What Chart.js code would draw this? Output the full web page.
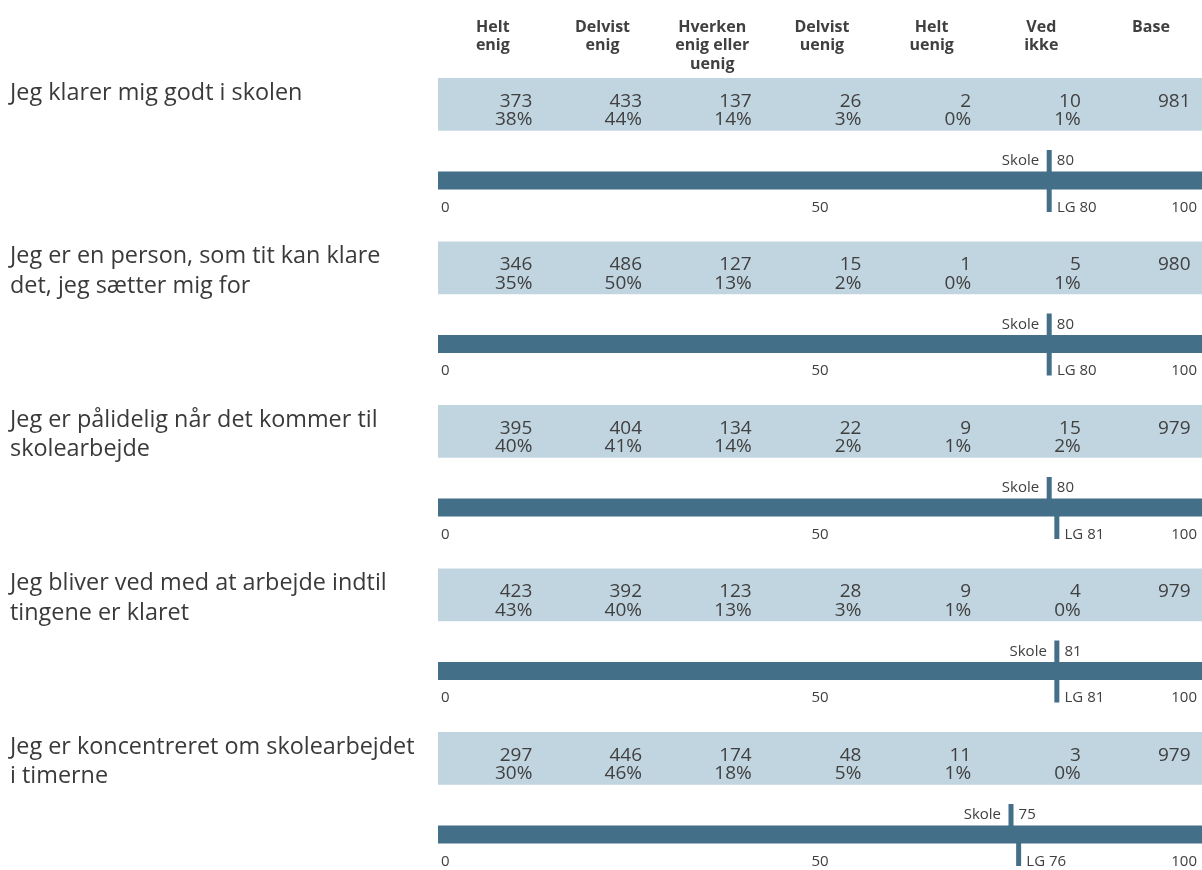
<!DOCTYPE html>
<html>
<head>
<meta charset="utf-8">
<script src="https://cdn.jsdelivr.net/npm/chart.js@4.4.1/dist/chart.umd.min.js"></script>
<style>
html,body{margin:0;padding:0;background:#ffffff;}
#wrap{width:1202px;height:870px;position:relative;}
</style>
</head>
<body>
<div id="wrap"><canvas id="c" width="1202" height="870"></canvas></div>
<script>
// ---------- data ----------
const questions = [
  ["Jeg klarer mig godt i skolen"],
  ["Jeg er en person, som tit kan klare", "det, jeg sætter mig for"],
  ["Jeg er pålidelig når det kommer til", "skolearbejde"],
  ["Jeg bliver ved med at arbejde indtil", "tingene er klaret"],
  ["Jeg er koncentreret om skolearbejdet", "i timerne"]
];
const columnHeaders = [
  ["Helt", "enig"],
  ["Delvist", "enig"],
  ["Hverken", "enig eller", "uenig"],
  ["Delvist", "uenig"],
  ["Helt", "uenig"],
  ["Ved", "ikke"],
  ["Base"]
];
const heltEnig      = [373, 346, 395, 423, 297];
const delvistEnig   = [433, 486, 404, 392, 446];
const hverken       = [137, 127, 134, 123, 174];
const delvistUenig  = [26, 15, 22, 28, 48];
const heltUenig     = [2, 1, 9, 9, 11];
const vedIkke       = [10, 5, 15, 4, 3];
const base          = [981, 980, 979, 979, 979];

const pctHeltEnig     = [38, 35, 40, 43, 30];
const pctDelvistEnig  = [44, 50, 41, 40, 46];
const pctHverken      = [14, 13, 14, 13, 18];
const pctDelvistUenig = [3, 2, 2, 3, 5];
const pctHeltUenig    = [0, 0, 1, 1, 1];
const pctVedIkke      = [1, 1, 2, 0, 0];

const skole = [80, 80, 80, 81, 75];
const lg    = [80, 80, 81, 81, 76];

const scaleMin = 0, scaleMax = 100;
const scaleTicks = [0, 50, 100];

const countSeries = [heltEnig, delvistEnig, hverken, delvistUenig, heltUenig, vedIkke, base];
const pctSeries = [pctHeltEnig, pctDelvistEnig, pctHverken, pctDelvistUenig, pctHeltUenig, pctVedIkke];

// ---------- layout (pixels / units) ----------
const UNIT = 163.5;                 // pixels per question block
const Y_MIN = -104.3 / UNIT;
const Y_MAX = Y_MIN + 870 / UNIT;
const TRACK_OFF = 76.1 / UNIT;
const SKOLE_OFF = 60.2 / UNIT;
const LG_OFF = 91.7 / UNIT;

const BAND = '#c1d5e0';
const DARK = '#446f88';
const TXT = '#404040';
const FONT = '"Open Sans", "DejaVu Sans", sans-serif';

const textPlugin = {
  id: 'tableText',
  afterDraw(chart) {
    const ctx = chart.ctx;
    const x = chart.scales.x, y = chart.scales.y, xc = chart.scales.xc;
    ctx.save();
    ctx.fillStyle = TXT;
    ctx.textBaseline = 'alphabetic';

    // column headers
    const y0 = y.getPixelForValue(0);
    ctx.font = 'bold 16px ' + FONT;
    ctx.textAlign = 'center';
    columnHeaders.forEach((lines, c) => {
      lines.forEach((ln, k) => {
        ctx.fillText(ln, xc.getPixelForValue(c), y0 - 72.8 + k * 18.8);
      });
    });

    questions.forEach((lines, i) => {
      const yc = y.getPixelForValue(i);
      // left question label
      ctx.fillStyle = '#3a3a3a';
      ctx.font = '23.4px ' + FONT;
      ctx.textAlign = 'left';
      lines.forEach((ln, k) => ctx.fillText(ln, 10, yc - 4.5 + k * 29.3));

      // table numbers
      ctx.fillStyle = TXT;
      ctx.font = '19px ' + FONT;
      ctx.textAlign = 'right';
      countSeries.forEach((arr, c) => {
        ctx.fillText(String(arr[i]), xc.getPixelForValue(c) + 39.5, yc + 2.2);
      });
      pctSeries.forEach((arr, c) => {
        ctx.fillText(arr[i] + '%', xc.getPixelForValue(c) + 39.5, yc + 20.7);
      });

      // track labels
      ctx.font = '15px ' + FONT;
      const sx = x.getPixelForValue(skole[i]);
      const lx = x.getPixelForValue(lg[i]);
      ctx.textAlign = 'right';
      ctx.fillText('Skole', sx - 10, yc + 60.7);
      ctx.textAlign = 'left';
      ctx.fillText(String(skole[i]), sx + 7.6, yc + 60.7);
      ctx.fillText('LG ' + lg[i], lx + 7.7, yc + 107.5);

      // scale ticks
      scaleTicks.forEach((t, k) => {
        const px = x.getPixelForValue(t);
        if (k === 0) { ctx.textAlign = 'left'; ctx.fillText(String(t), px + 3, yc + 107.5); }
        else if (k === scaleTicks.length - 1) { ctx.textAlign = 'right'; ctx.fillText(String(t), px - 5, yc + 107.5); }
        else { ctx.textAlign = 'center'; ctx.fillText(String(t), px, yc + 107.5); }
      });
    });
    ctx.restore();
  }
};

function build() {
  new Chart(document.getElementById('c'), {
    type: 'bar',
    data: {
      datasets: [
        {
          type: 'bar', indexAxis: 'y', label: 'band',
          data: questions.map((q, i) => ({ x: [scaleMin, scaleMax], y: i })),
          backgroundColor: BAND, barThickness: 52, grouped: false, order: 3,
          xAxisID: 'x', yAxisID: 'y'
        },
        {
          type: 'bar', indexAxis: 'y', label: 'track',
          data: questions.map((q, i) => ({ x: [scaleMin, scaleMax], y: i + TRACK_OFF })),
          backgroundColor: DARK, barThickness: 17.3, grouped: false, order: 2,
          xAxisID: 'x', yAxisID: 'y'
        },
        {
          type: 'scatter', indexAxis: 'x', label: 'Skole',
          data: skole.map((v, i) => ({ x: v, y: i + SKOLE_OFF })),
          pointStyle: 'line', pointRotation: 90, pointRadius: 14.5, pointHoverRadius: 14.5,
          pointBorderWidth: 5, pointBorderColor: DARK, borderColor: DARK, backgroundColor: DARK,
          showLine: false, clip: false, order: 1, xAxisID: 'x', yAxisID: 'y'
        },
        {
          type: 'scatter', indexAxis: 'x', label: 'LG',
          data: lg.map((v, i) => ({ x: v, y: i + LG_OFF })),
          pointStyle: 'line', pointRotation: 90, pointRadius: 16, pointHoverRadius: 16,
          pointBorderWidth: 5, pointBorderColor: DARK, borderColor: DARK, backgroundColor: DARK,
          showLine: false, clip: false, order: 1, xAxisID: 'x', yAxisID: 'y'
        }
      ]
    },
    options: {
      responsive: false,
      animation: false,
      devicePixelRatio: 1,
      indexAxis: 'y',
      layout: { autoPadding: false, padding: { left: 438, right: 0, top: 0, bottom: 0 } },
      plugins: { legend: { display: false }, tooltip: { enabled: false } },
      events: [],
      scales: {
        x: { type: 'linear', min: scaleMin, max: scaleMax, offset: false, display: false },
        xc: { type: 'linear', axis: 'x', min: -0.5, max: 6.465, offset: false, display: false },
        y: { type: 'linear', min: Y_MIN, max: Y_MAX, reverse: true, offset: false, display: false }
      }
    },
    plugins: [textPlugin]
  });
}
if (document.fonts && document.fonts.load) {
  Promise.all([
    document.fonts.load('23px "Open Sans"'),
    document.fonts.load('bold 16px "Open Sans"')
  ]).then(build, build);
} else { build(); }
</script>
</body>
</html>
